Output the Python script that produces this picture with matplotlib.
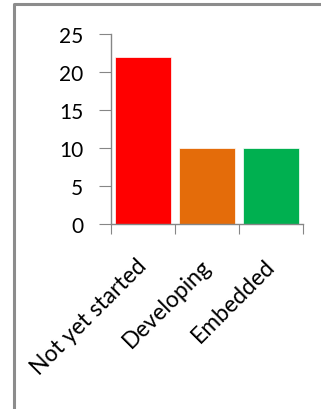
import matplotlib
matplotlib.use("Agg")
import matplotlib.pyplot as plt
import matplotlib.transforms as mtransforms
from matplotlib.lines import Line2D

# Chart data
categories = ['Not yet started', 'Developing', 'Embedded']
values = [22, 10, 10]
bar_colors = ['#ff0000', '#e46c0a', '#00b050']
y_ticks = [0, 5, 10, 15, 20, 25]

plt.rcParams['font.family'] = ['Lato', 'DejaVu Sans']

fig = plt.figure(figsize=(3.21, 4.10), dpi=100)
ax = fig.add_axes([0.346, 0.451, 0.598, 0.464])

x = range(len(categories))
ax.bar(x, values, width=0.875, color=bar_colors, edgecolor='white', linewidth=0.5)

ax.set_xlim(-0.5, len(categories) - 0.5)
ax.set_ylim(0, 25)
ax.set_yticks(y_ticks)
ax.set_yticklabels([str(t) for t in y_ticks], fontsize=15)

# category boundary ticks like Excel
ax.set_xticks([i - 0.5 for i in range(len(categories) + 1)])
ax.set_xticklabels([])
ax.set_xticks(list(x), minor=True)
ax.set_xticklabels(categories, minor=True, rotation=45, ha='right', va='top',
                   rotation_mode='anchor', fontsize=16.5)
ax.tick_params(axis='x', which='minor', length=0, pad=22)
ax.tick_params(axis='x', which='major', length=7, color='#868686', direction='out')
ax.tick_params(axis='y', length=9, color='#868686', pad=11)

# nudge the rotated labels a little to the left
shift = mtransforms.ScaledTranslation(-7 / 100, 0, fig.dpi_scale_trans)
for lbl in ax.get_xticklabels(minor=True):
    lbl.set_transform(lbl.get_transform() + shift)

for side in ['top', 'right']:
    ax.spines[side].set_visible(False)
for side in ['left', 'bottom']:
    ax.spines[side].set_color('#868686')
    ax.spines[side].set_linewidth(1.0)

# chart area border (only left and top visible in the crop)
fig.add_artist(Line2D([0.044, 0.044, 1.0], [0.0, 0.988, 0.988],
                      transform=fig.transFigure, color='#8c8c8c', linewidth=2.2))

fig.savefig('out.png', dpi=100, facecolor='white')
